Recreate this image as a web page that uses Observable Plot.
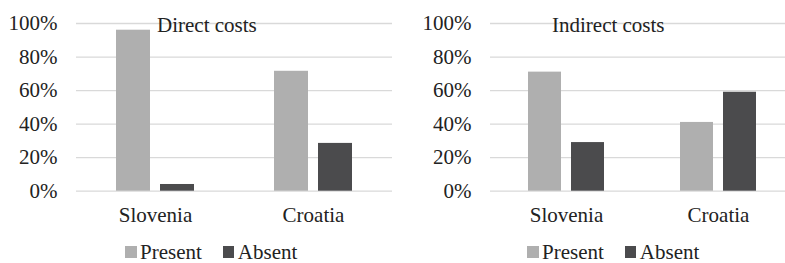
<!DOCTYPE html>
<html>
<head>
<meta charset="utf-8">
<script src="https://cdn.jsdelivr.net/npm/d3@7"></script>
<script src="https://cdn.jsdelivr.net/npm/@observablehq/plot@0.6"></script>
<style>
  html, body { margin: 0; padding: 0; background: #fff; }
  #wrap { position: relative; width: 785px; height: 263px; overflow: hidden; color: #222; }
  #wrap, #wrap * { font-family: "Liberation Serif", "Times New Roman", serif !important; }
  #wrap svg { max-width: none !important; overflow: visible; }
  .panel { position: absolute; top: 0; }
  .title { position: absolute; font-size: 21px; line-height: 21px; white-space: nowrap; }
  .legend { position: absolute; top: 243.6px; display: flex; align-items: center; font-size: 21px; line-height: 16px; white-space: nowrap; }
  .legend .item { display: flex; align-items: center; }
  .legend .sw { width: 11.5px; height: 11.5px; margin-right: 3.5px; margin-top: 1px; }
</style>
</head>
<body>
<div id="wrap"></div>
<script>
const countries = ["Slovenia", "Croatia"];
const seriesNames = ["Present", "Absent"];
const directPresent = [96, 71.5];
const directAbsent = [4, 28.5];
const indirectPresent = [71, 41];
const indirectAbsent = [29, 59];
const yTicks = [0, 20, 40, 60, 80, 100];
const panelTitles = ["Direct costs", "Indirect costs"];
const colors = ["#afafaf", "#4b4b4d"];

function rows(present, absent) {
  const out = [];
  countries.forEach((c, i) => {
    out.push({country: c, series: "Present", value: present[i]});
    out.push({country: c, series: "Absent", value: absent[i]});
  });
  return out;
}

function chart(data, marginLeft, width) {
  return Plot.plot({
    width,
    height: 263,
    marginTop: 23,
    marginBottom: 72.3,
    marginLeft,
    marginRight: 0,
    style: {fontFamily: '"Liberation Serif", "Times New Roman", serif', fontSize: "21px", color: "#222", background: "transparent", maxWidth: "none"},
    fx: {domain: countries, padding: 0, label: null, axis: "bottom", tickSize: 0, tickPadding: 16},
    x: {domain: seriesNames, axis: null, paddingInner: 0.222, paddingOuter: 0.867},
    y: {domain: [0, 100], ticks: yTicks, tickSize: 0, tickPadding: 19, label: null, tickFormat: d => d + "%"},
    color: {domain: seriesNames, range: colors},
    marks: [
      Plot.gridY(yTicks, {stroke: "#d9d9d9", strokeOpacity: 1, strokeWidth: 1.3}),
      Plot.barY(data, {fx: "country", x: "series", y: "value", fill: "series"})
    ]
  });
}

const wrap = document.getElementById("wrap");
const panels = [
  {data: rows(directPresent, directAbsent), left: 0, ml: 76, w: 392, title: panelTitles[0], tx: 157, lx: 125},
  {data: rows(indirectPresent, indirectAbsent), left: 395, ml: 94, w: 399, title: panelTitles[1], tx: 552, lx: 527}
];
panels.forEach(p => {
  const div = document.createElement("div");
  div.className = "panel";
  div.style.left = p.left + "px";
  div.style.width = p.w + "px";
  div.appendChild(chart(p.data, p.ml, p.w));
  wrap.appendChild(div);

  const t = document.createElement("div");
  t.className = "title";
  t.textContent = p.title;
  t.style.left = p.tx + "px";
  t.style.top = "14.5px";
  wrap.appendChild(t);

  const lg = document.createElement("div");
  lg.className = "legend";
  lg.style.left = p.lx + "px";
  seriesNames.forEach((s, i) => {
    const it = document.createElement("div");
    it.className = "item";
    if (i > 0) it.style.marginLeft = "21px";
    const sw = document.createElement("span");
    sw.className = "sw";
    sw.style.background = colors[i];
    const tx = document.createElement("span");
    tx.textContent = s;
    it.appendChild(sw);
    it.appendChild(tx);
    lg.appendChild(it);
  });
  wrap.appendChild(lg);
});
</script>
</body>
</html>
